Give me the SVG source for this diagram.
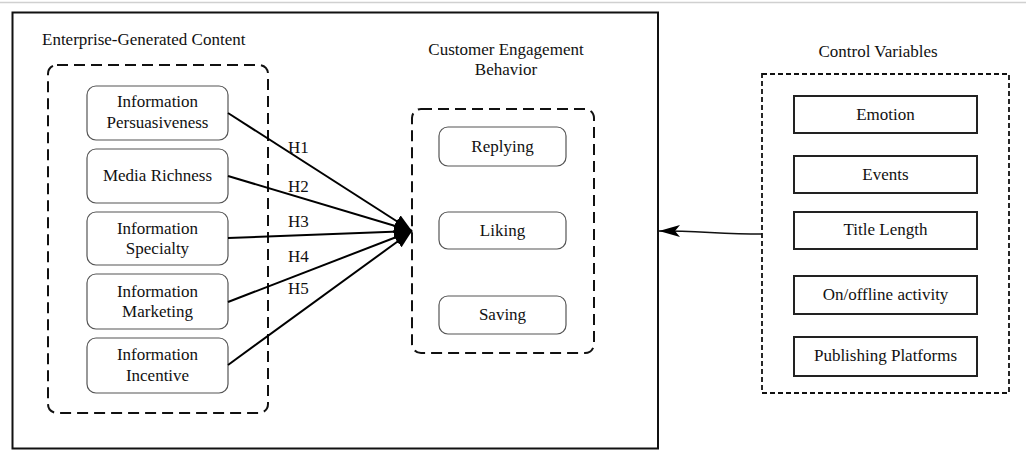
<svg xmlns="http://www.w3.org/2000/svg" width="1026" height="450" viewBox="0 0 1026 450">
  <style>
    text { font-family: "Liberation Serif", "Times New Roman", serif; font-size: 17px; fill: #111; }
    .mid { text-anchor: middle; }
    .frame { fill: none; stroke: #111; stroke-width: 2; }
    .group-dash { fill: none; stroke: #111; stroke-width: 2; stroke-dasharray: 11 6; }
    .ctrl-dash { fill: none; stroke: #111; stroke-width: 1.8; stroke-dasharray: 5 3; }
    .soft { fill: #fff; stroke: #555; stroke-width: 1.2; }
    .hard { fill: #fff; stroke: #222; stroke-width: 2; }
    .conn { fill: none; stroke: #000; stroke-width: 2; }
    .thin { fill: none; stroke: #111; stroke-width: 1.6; }
  </style>
  <defs>
    <marker id="head" viewBox="0 0 18 14" refX="18" refY="7" markerWidth="18" markerHeight="14" markerUnits="userSpaceOnUse" orient="auto">
      <path d="M0,0 L18,7 L0,14 Z" fill="#000"/>
    </marker>
    <marker id="dart" viewBox="0 0 21 12" refX="21" refY="6" markerWidth="21" markerHeight="12" markerUnits="userSpaceOnUse" orient="auto">
      <path d="M0,0 L21,6 L0,12 L5,6 Z" fill="#000"/>
    </marker>
  </defs>

  <rect width="1026" height="450" fill="#fff"/>
  <line x1="0" y1="2.5" x2="1026" y2="2.5" stroke="#d0d0d0" stroke-width="1.5"/>

  <!-- main frame around the research model -->
  <rect class="frame" x="12.5" y="12.5" width="645.5" height="436"/>

  <!-- independent variables -->
  <g id="egc-group">
    <text x="42" y="45">Enterprise-Generated Content</text>
    <rect class="group-dash" x="48" y="65" width="220" height="348" rx="9"/>
  </g>
  <g id="info-persuasiveness">
    <rect class="soft" x="87" y="86" width="141" height="54" rx="9"/>
    <text class="mid" x="157.5" y="107">Information</text>
    <text class="mid" x="157.5" y="128">Persuasiveness</text>
  </g>
  <g id="media-richness">
    <rect class="soft" x="87" y="149" width="141" height="54" rx="9"/>
    <text class="mid" x="157.5" y="181">Media Richness</text>
  </g>
  <g id="info-specialty">
    <rect class="soft" x="87" y="212" width="141" height="53" rx="9"/>
    <text class="mid" x="157.5" y="234">Information</text>
    <text class="mid" x="157.5" y="254">Specialty</text>
  </g>
  <g id="info-marketing">
    <rect class="soft" x="87" y="274" width="141" height="55" rx="9"/>
    <text class="mid" x="157.5" y="297">Information</text>
    <text class="mid" x="157.5" y="317">Marketing</text>
  </g>
  <g id="info-incentive">
    <rect class="soft" x="87" y="338" width="141" height="55" rx="9"/>
    <text class="mid" x="157.5" y="360">Information</text>
    <text class="mid" x="157.5" y="381">Incentive</text>
  </g>

  <!-- dependent variables -->
  <g id="ceb-group">
    <text class="mid" x="506" y="55">Customer Engagement</text>
    <text class="mid" x="506" y="75">Behavior</text>
    <rect class="group-dash" x="412" y="109" width="182" height="244" rx="9"/>
  </g>
  <g id="replying">
    <rect class="soft" x="439" y="127" width="127" height="39" rx="9"/>
    <text class="mid" x="502.5" y="152">Replying</text>
  </g>
  <g id="liking">
    <rect class="soft" x="439" y="212" width="127" height="37" rx="9"/>
    <text class="mid" x="502.5" y="236">Liking</text>
  </g>
  <g id="saving">
    <rect class="soft" x="439" y="296" width="127" height="38" rx="9"/>
    <text class="mid" x="502.5" y="320">Saving</text>
  </g>

  <!-- control variables -->
  <g id="control-group">
    <text class="mid" x="878" y="57">Control Variables</text>
    <rect class="ctrl-dash" x="762" y="74" width="247" height="319"/>
  </g>
  <g id="emotion">
    <rect class="hard" x="794" y="96" width="183" height="37"/>
    <text class="mid" x="885.5" y="120">Emotion</text>
  </g>
  <g id="events">
    <rect class="hard" x="794" y="156" width="183" height="37"/>
    <text class="mid" x="885.5" y="180">Events</text>
  </g>
  <g id="title-length">
    <rect class="hard" x="794" y="212" width="183" height="37"/>
    <text class="mid" x="885.5" y="235">Title Length</text>
  </g>
  <g id="on-offline-activity">
    <rect class="hard" x="794" y="276" width="183" height="38"/>
    <text class="mid" x="885.5" y="300">On/offline activity</text>
  </g>
  <g id="publishing-platforms">
    <rect class="hard" x="794" y="337" width="183" height="39"/>
    <text class="mid" x="885.5" y="361">Publishing Platforms</text>
  </g>

  <!-- hypothesised paths and control link -->
  <g id="connectors">
    <line class="conn" x1="228" y1="113" x2="412" y2="231" marker-end="url(#head)"/>
    <line class="conn" x1="228" y1="176" x2="412" y2="231" marker-end="url(#head)"/>
    <line class="conn" x1="228" y1="238" x2="412" y2="231" marker-end="url(#head)"/>
    <line class="conn" x1="228" y1="302" x2="412" y2="231" marker-end="url(#head)"/>
    <line class="conn" x1="228" y1="365" x2="412" y2="231" marker-end="url(#head)"/>
    <text x="288" y="153">H1</text>
    <text x="288" y="192">H2</text>
    <text x="288" y="227">H3</text>
    <text x="288" y="262">H4</text>
    <text x="288" y="294">H5</text>
    <path class="thin" d="M762,234 C720,234 700,231 659,231" marker-end="url(#dart)"/>
  </g>
</svg>
